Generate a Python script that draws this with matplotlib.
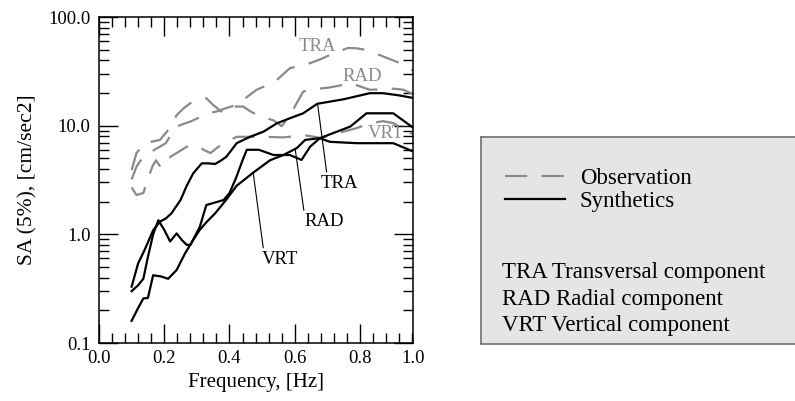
import numpy as np
import matplotlib
matplotlib.use("Agg")
import matplotlib.pyplot as plt
from matplotlib.ticker import FixedLocator, FixedFormatter, LogLocator, MultipleLocator, NullFormatter

plt.rcParams["font.family"] = ["Liberation Serif", "DejaVu Serif"]

# ---- data (frequency in Hz, SA in cm/sec2) ----
# observations (gray dashed)
tra_obs_f = [0.10, 0.115, 0.13, 0.15, 0.17, 0.19, 0.205, 0.22, 0.238, 0.26, 0.28, 0.31,
             0.335, 0.36, 0.39, 0.42, 0.45, 0.483, 0.515, 0.545, 0.585, 0.615, 0.647,
             0.68, 0.708, 0.74, 0.764, 0.79, 0.815, 0.85, 0.882, 0.915, 0.943, 0.9625]
tra_obs_sa = [3.2, 4.2, 4.9, 5.4, 6.0, 6.5, 6.9, 8.2, 9.8, 10.4, 10.9, 12.0,
              13.0, 13.5, 14.5, 15.5, 18.0, 21.4, 23.5, 26.3, 33.8, 35.5, 37.6,
              41.0, 44.8, 49.0, 51.9, 51.5, 50.0, 46.0, 42.0, 38.5, 35.0, 32.0]

rad_obs_f = [0.10, 0.115, 0.14, 0.16, 0.187, 0.212, 0.238, 0.26, 0.28, 0.305, 0.329, 0.35,
             0.375, 0.391, 0.422, 0.442, 0.465, 0.483, 0.51, 0.535, 0.56, 0.585, 0.606,
             0.626, 0.65, 0.68, 0.708, 0.74, 0.77, 0.80, 0.83, 0.855, 0.88, 0.91, 0.933, 0.9625]
rad_obs_sa = [3.9, 5.6, 6.9, 7.1, 7.4, 9.1, 12.5, 14.5, 16.1, 17.0, 17.9, 15.5,
              13.5, 15.0, 15.0, 15.0, 13.5, 12.6, 11.8, 11.2, 9.9, 12.5, 16.1,
              20.6, 21.5, 22.0, 22.5, 23.5, 24.6, 23.0, 21.4, 21.5, 22.0, 21.8, 21.4, 19.5]

vrt_obs_f = [0.10, 0.115, 0.136, 0.151, 0.165, 0.175, 0.19, 0.202, 0.22, 0.238, 0.269, 0.30,
             0.32, 0.342, 0.36, 0.382, 0.422, 0.46, 0.504, 0.565, 0.60, 0.626, 0.66, 0.68,
             0.73, 0.79, 0.83, 0.87, 0.90, 0.93, 0.9625]
vrt_obs_sa = [2.7, 2.3, 2.4, 3.3, 4.3, 4.8, 4.1, 4.6, 5.2, 5.6, 6.4, 6.65,
              6.0, 5.6, 6.2, 6.9, 7.9, 7.9, 7.9, 7.8, 8.0, 8.2, 7.9, 7.7,
              8.5, 9.5, 10.5, 11.0, 10.6, 9.5, 8.3]

# synthetics (black solid)
tra_syn_f = [0.10, 0.12, 0.14, 0.166, 0.187, 0.205, 0.222, 0.25, 0.269, 0.289, 0.315, 0.335,
             0.356, 0.375, 0.391, 0.422, 0.463, 0.504, 0.545, 0.585, 0.626, 0.669, 0.75,
             0.83, 0.871, 0.92, 0.9625]
tra_syn_sa = [0.33, 0.54, 0.72, 1.09, 1.31, 1.40, 1.56, 2.07, 2.8, 3.65, 4.5, 4.5,
              4.44, 4.8, 5.2, 6.9, 7.9, 8.8, 10.5, 11.7, 13.0, 15.9, 17.5,
              19.9, 19.9, 19.0, 18.0]

rad_syn_f = [0.10, 0.12, 0.136, 0.15, 0.166, 0.182, 0.20, 0.218, 0.238, 0.255, 0.269, 0.28,
             0.309, 0.329, 0.365, 0.382, 0.40, 0.42, 0.44, 0.453, 0.49, 0.535, 0.585, 0.621,
             0.647, 0.677, 0.729, 0.77, 0.82, 0.902, 0.9625]
rad_syn_sa = [0.30, 0.34, 0.39, 0.62, 1.0, 1.35, 1.1, 0.86, 1.02, 0.88, 0.80, 0.80,
              1.17, 1.86, 2.0, 2.07, 2.4, 3.3, 4.8, 6.0, 6.0, 5.37, 5.37, 4.84,
              6.4, 7.67, 8.8, 9.8, 13.0, 13.0, 9.6]

vrt_syn_f = [0.10, 0.12, 0.136, 0.15, 0.166, 0.19, 0.212, 0.238, 0.264, 0.285, 0.309, 0.33,
             0.356, 0.391, 0.422, 0.473, 0.524, 0.565, 0.606, 0.632, 0.677, 0.708, 0.79,
             0.902, 0.9625]
vrt_syn_sa = [0.16, 0.21, 0.257, 0.26, 0.42, 0.41, 0.39, 0.47, 0.67, 0.85, 1.1, 1.3,
              1.56, 2.1, 2.8, 3.7, 4.8, 5.37, 6.2, 7.4, 7.67, 7.1, 6.9,
              6.9, 5.8]

# axis ticks
x_ticks = [0.0, 0.2, 0.4, 0.6, 0.8, 0.9625]
x_ticklabels = ["0.0", "0.2", "0.4", "0.6", "0.8", "1.0"]
y_ticks = [0.1, 1.0, 10.0, 100.0]
y_ticklabels = ["0.1", "1.0", "10.0", "100.0"]

GRAY = "#8a8a8a"
DASH = (10.0, 6.5)
FS = 13.5

fig = plt.figure(figsize=(7.95, 4.01), dpi=100)
ax = fig.add_axes([0.1245, 0.1446, 0.395, 0.813])

obs_line = None
for f, sa in [(tra_obs_f, tra_obs_sa), (rad_obs_f, rad_obs_sa), (vrt_obs_f, vrt_obs_sa)]:
    obs_line, = ax.plot(f, sa, color=GRAY, lw=1.6, dashes=DASH)
syn_line = None
for f, sa in [(tra_syn_f, tra_syn_sa), (rad_syn_f, rad_syn_sa), (vrt_syn_f, vrt_syn_sa)]:
    syn_line, = ax.plot(f, sa, color="black", lw=1.6)

ax.set_yscale("log")
ax.set_xlim(0.0, 0.9625)
ax.set_ylim(0.1, 100.0)

ax.xaxis.set_major_locator(FixedLocator(x_ticks))
ax.xaxis.set_major_formatter(FixedFormatter(x_ticklabels))
ax.xaxis.set_minor_locator(MultipleLocator(0.04))
ax.yaxis.set_major_locator(FixedLocator(y_ticks))
ax.yaxis.set_major_formatter(FixedFormatter(y_ticklabels))
ax.yaxis.set_minor_locator(LogLocator(base=10, subs=np.arange(2, 10)))
ax.yaxis.set_minor_formatter(NullFormatter())

ax.tick_params(which="both", direction="in", top=True, right=True, width=1.0, labelsize=FS)
ax.tick_params(which="major", length=13.5)
ax.tick_params(which="minor", length=7)
ax.tick_params(axis="x", pad=5)
ax.tick_params(axis="y", pad=6)

# last x label sits at the frame edge without a long tick
last = ax.xaxis.get_major_ticks()[-1]
last.tick1line.set_visible(False)
last.tick2line.set_visible(False)

for s in ax.spines.values():
    s.set_linewidth(1.1)

ax.set_xlabel("Frequency, [Hz]", fontsize=15, labelpad=4)
ax.set_ylabel("SA (5%), [cm/sec2]", fontsize=15.5, labelpad=8)

# gray curve labels
ax.text(0.668, 53.5, "TRA", color=GRAY, fontsize=FS, ha="center", va="center")
ax.text(0.806, 28.3, "RAD", color=GRAY, fontsize=FS, ha="center", va="center")
ax.text(0.880, 8.53, "VRT", color=GRAY, fontsize=FS, ha="center", va="center")

# black curve labels with leader lines
lead = dict(arrowstyle="-", color="black", lw=0.8, shrinkA=0, shrinkB=0)
ax.annotate("TRA", xy=(0.670, 15.9), xytext=(0.7356, 2.95), fontsize=FS,
            ha="center", va="center", arrowprops=dict(lead, relpos=(0.18, 1.0)))
ax.annotate("RAD", xy=(0.601, 6.2), xytext=(0.6897, 1.31), fontsize=FS,
            ha="center", va="center", arrowprops=dict(lead, relpos=(0.0, 1.0)))
ax.annotate("VRT", xy=(0.4729, 3.65), xytext=(0.5548, 0.592), fontsize=FS,
            ha="center", va="center", arrowprops=dict(lead, relpos=(0.05, 1.0)))

# legend panel
lax = fig.add_axes([0.605, 0.142, 0.41, 0.516])
lax.set_facecolor("#e5e5e5")
lax.set_xticks([])
lax.set_yticks([])
for s in lax.spines.values():
    s.set_color("#707070")
    s.set_linewidth(1.2)
lax.spines["right"].set_visible(False)

leg = lax.legend([obs_line, syn_line], ["Observation", "Synthetics"],
                 loc="upper left", bbox_to_anchor=(0.075, 0.85), frameon=False,
                 fontsize=16.5, handlelength=2.6, handletextpad=0.65, labelspacing=0.08,
                 borderpad=0.0, borderaxespad=0.0)

lax.text(0.066, 0.344, "TRA Transversal component", fontsize=16.5, va="center", ha="left")
lax.text(0.066, 0.213, "RAD Radial component", fontsize=16.5, va="center", ha="left")
lax.text(0.066, 0.092, "VRT Vertical component", fontsize=16.5, va="center", ha="left")

fig.savefig("out.png", dpi=100)
